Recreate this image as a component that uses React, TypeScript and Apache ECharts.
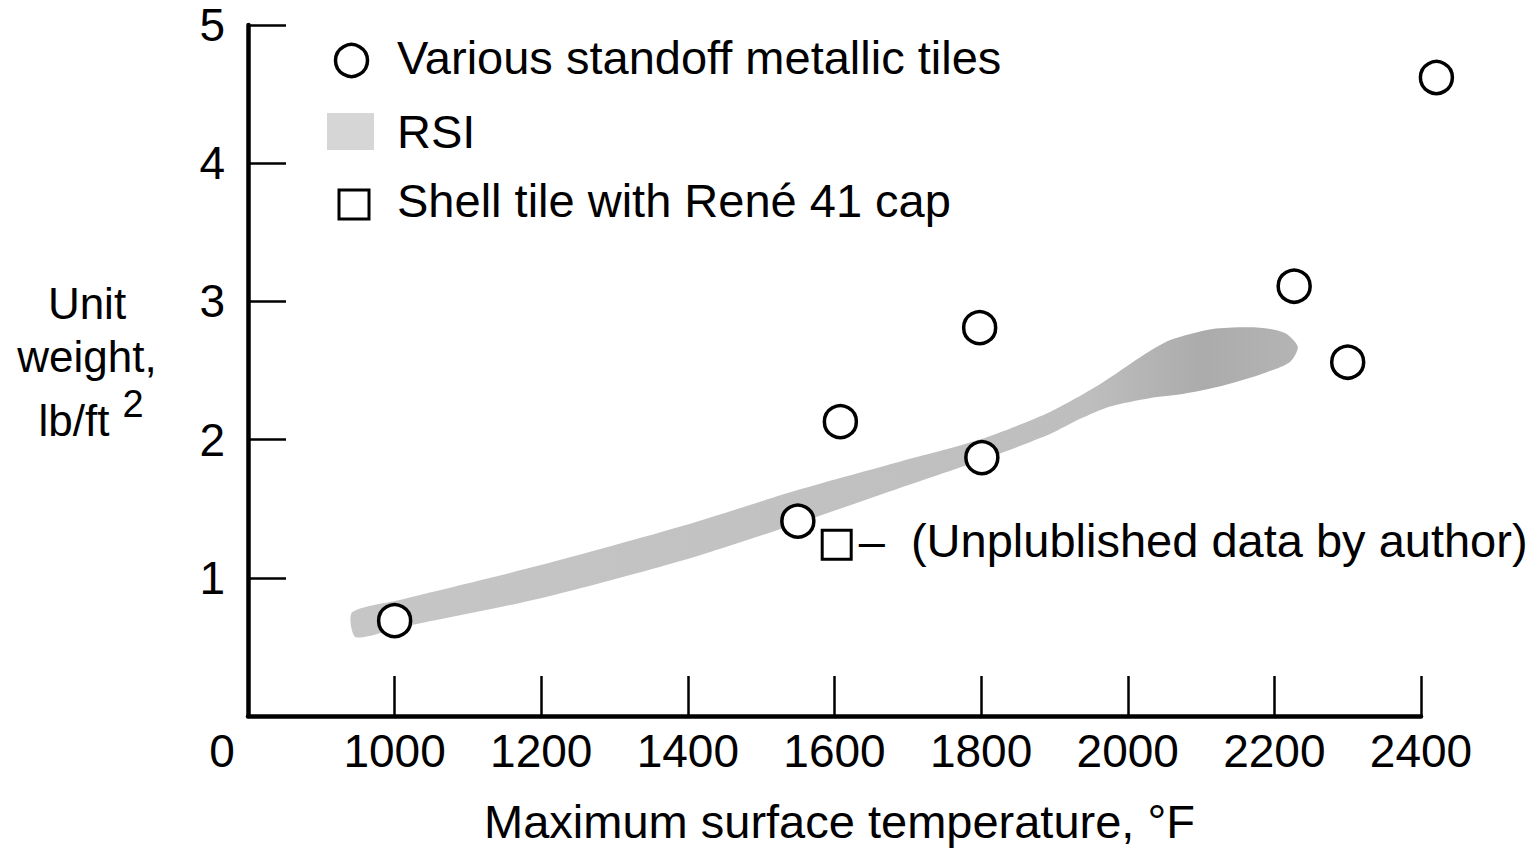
import React, { useEffect, useRef } from "react";
import * as echarts from "echarts";

// ---- data ----
const tileTemps = [1000, 1550, 1608, 1798, 1801, 2227, 2300, 2421];
const tileWeights = [0.69, 1.41, 2.13, 2.81, 1.87, 3.11, 2.56, 4.62];

const shellTemps = [1603];
const shellWeights = [1.24];

// RSI band outline: upper edge (left -> right), lower edge (right -> left)
const rsiUpperTemps = [942, 1007, 1198, 1396, 1553, 1689, 1798, 1894, 1962, 2021, 2058, 2116, 2180, 2215, 2232];
const rsiUpperWeights = [0.75, 0.84, 1.09, 1.38, 1.64, 1.84, 2.0, 2.2, 2.4, 2.61, 2.72, 2.8, 2.81, 2.77, 2.67];
const rsiLowerTemps = [2221, 2180, 2122, 2075, 2030, 1976, 1935, 1894, 1826, 1689, 1553, 1396, 1198, 1007, 947];
const rsiLowerWeights = [2.56, 2.47, 2.38, 2.33, 2.3, 2.24, 2.15, 2.04, 1.9, 1.65, 1.4, 1.13, 0.85, 0.64, 0.57];

const xMin = 800;
const xMax = 2400;
const xStep = 200;
const yMin = 0;
const yMax = 5;
const yStep = 1;

const legendLabels = ["Various standoff metallic tiles", "RSI", "Shell tile with René 41 cap"];
const shellNote = "(Unplublished data by author)";
const xTitle = "Maximum surface temperature, °F";
const yTitleLines = ["Unit", "weight,", "lb/ft"];

const FONT = "'Liberation Sans', Arial, Helvetica, sans-serif";

export default function App() {
  const ref = useRef<HTMLDivElement>(null);

  useEffect(() => {
    if (!ref.current) return;
    const chart = echarts.init(ref.current, undefined, { renderer: "svg" });

    const option: any = {
      animation: false,
      backgroundColor: "#ffffff",
      textStyle: { fontFamily: FONT, color: "#000" },
      grid: { left: 248, right: 118, top: 25, bottom: 135, containLabel: false },
      xAxis: {
        type: "value",
        min: xMin,
        max: xMax,
        interval: xStep,
        name: xTitle,
        nameLocation: "middle",
        nameGap: 82,
        nameTextStyle: { fontSize: 47, color: "#000", fontFamily: FONT, padding: [0, 0, 0, 10] },
        axisLine: { show: true, lineStyle: { color: "#000", width: 4.5 } },
        axisTick: { show: true, inside: true, length: 40, lineStyle: { color: "#000", width: 2.5 } },
        axisLabel: {
          fontSize: 46,
          color: "#000",
          fontFamily: FONT,
          margin: 12,
          formatter: (v: number) => (v === xMin ? "" : String(v)),
        },
        splitLine: { show: false },
      },
      yAxis: {
        type: "value",
        min: yMin,
        max: yMax,
        interval: yStep,
        axisLine: { show: true, lineStyle: { color: "#000", width: 4.5 } },
        axisTick: { show: true, inside: true, length: 38, lineStyle: { color: "#000", width: 2.5 } },
        axisLabel: {
          fontSize: 46,
          color: "#000",
          fontFamily: FONT,
          margin: 23,
          formatter: (v: number) => (v === yMin ? "" : String(v)),
        },
        splitLine: { show: false },
      },
      series: [
        {
          name: legendLabels[1],
          type: "custom",
          clip: false,
          z: 1,
          data: [[rsiUpperTemps[0], rsiUpperWeights[0]]],
          renderItem: (_params: any, api: any) => {
            const pts: number[][] = [];
            for (let i = 0; i < rsiUpperTemps.length; i++) pts.push(api.coord([rsiUpperTemps[i], rsiUpperWeights[i]]));
            for (let i = 0; i < rsiLowerTemps.length; i++) pts.push(api.coord([rsiLowerTemps[i], rsiLowerWeights[i]]));
            return {
              type: "polygon",
              shape: { points: pts, smooth: 0.25 },
              style: {
                fill: new echarts.graphic.LinearGradient(0, 0, 1, 0, [
                  { offset: 0, color: "#c6c6c6" },
                  { offset: 0.78, color: "#bebebe" },
                  { offset: 0.9, color: "#ababab" },
                  { offset: 1, color: "#b4b4b4" },
                ]),
                stroke: "none",
              },
            };
          },
        },
        {
          name: legendLabels[0],
          type: "scatter",
          clip: false,
          z: 3,
          symbol: "circle",
          symbolSize: 32,
          itemStyle: { color: "#ffffff", borderColor: "#000", borderWidth: 3.5, opacity: 1 },
          data: tileTemps.map((t, i) => [t, tileWeights[i]]),
        },
        {
          name: legendLabels[2],
          type: "scatter",
          clip: false,
          z: 3,
          symbol: "rect",
          symbolSize: 29,
          itemStyle: { color: "#ffffff", borderColor: "#000", borderWidth: 3, opacity: 1 },
          label: {
            show: true,
            position: "right",
            distance: 6,
            offset: [0, -4],
            fontSize: 47,
            color: "#000",
            fontFamily: FONT,
            formatter: () => "–\u00a0\u00a0" + shellNote,
          },
          data: shellTemps.map((t, i) => [t, shellWeights[i]]),
        },
      ],
      graphic: [
        // legend
        { type: "circle", shape: { cx: 351.5, cy: 60.5, r: 16 }, style: { fill: "#fff", stroke: "#000", lineWidth: 3.5 }, z: 10 },
        { type: "text", x: 397, y: 57, style: { text: legendLabels[0], fontSize: 47, fontFamily: FONT, fill: "#000", verticalAlign: "middle", align: "left" }, z: 10 },
        { type: "rect", shape: { x: 327, y: 113, width: 47, height: 37 }, style: { fill: "#d6d6d6", stroke: "none" }, z: 10 },
        { type: "text", x: 397, y: 131, style: { text: legendLabels[1], fontSize: 47, fontFamily: FONT, fill: "#000", verticalAlign: "middle", align: "left" }, z: 10 },
        { type: "rect", shape: { x: 339, y: 190, width: 30, height: 29 }, style: { fill: "#fff", stroke: "#000", lineWidth: 3 }, z: 10 },
        { type: "text", x: 397, y: 200, style: { text: legendLabels[2], fontSize: 47, fontFamily: FONT, fill: "#000", verticalAlign: "middle", align: "left" }, z: 10 },
        // y-axis title
        { type: "text", x: 87, y: 303, style: { text: yTitleLines[0], fontSize: 44, fontFamily: FONT, fill: "#000", verticalAlign: "middle", align: "center" }, z: 10 },
        { type: "text", x: 87, y: 356, style: { text: yTitleLines[1], fontSize: 44, fontFamily: FONT, fill: "#000", verticalAlign: "middle", align: "center" }, z: 10 },
        { type: "text", x: 74, y: 420, style: { text: yTitleLines[2], fontSize: 44, fontFamily: FONT, fill: "#000", verticalAlign: "middle", align: "center" }, z: 10 },
        { type: "text", x: 133, y: 404, style: { text: "2", fontSize: 38, fontFamily: FONT, fill: "#000", verticalAlign: "middle", align: "center" }, z: 10 },
        // shared origin label
        { type: "text", x: 222, y: 751, style: { text: "0", fontSize: 46, fontFamily: FONT, fill: "#000", verticalAlign: "middle", align: "center" }, z: 10 },
      ],
    };

    chart.setOption(option);
    return () => chart.dispose();
  }, []);

  return (
    <div
      ref={ref}
      style={{ position: "fixed", left: 0, top: 0, width: "1539px", height: "851px", background: "#fff" }}
    />
  );
}
